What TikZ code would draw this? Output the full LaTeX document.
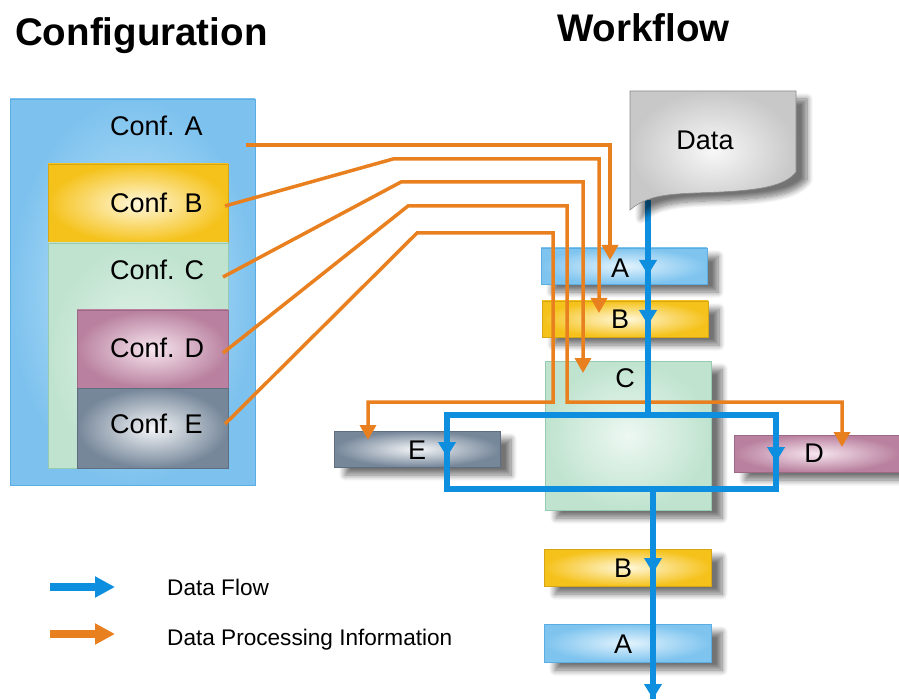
\documentclass[tikz,border=0pt]{standalone}
\usepackage{fontspec}
\setmainfont{Liberation Sans}
\usetikzlibrary{arrows.meta,shadows.blur}
\definecolor{flowblue}{RGB}{14,142,222}
\definecolor{procorange}{RGB}{233,128,32}
\begin{document}
\begin{tikzpicture}[x=1pt,y=-1pt,
  box/.style={draw,line width=0.6pt,inner sep=0pt,outer sep=0pt},
  shA/.style={inner color={rgb,255:red,227;green,243;blue,253},outer color={rgb,255:red,126;green,196;blue,239},draw={rgb,255:red,90;green,174;blue,227}},
  shB/.style={inner color={rgb,255:red,255;green,248;blue,220},outer color={rgb,255:red,245;green,194;blue,27},draw={rgb,255:red,215;green,166;blue,21}},
  shC/.style={inner color={rgb,255:red,237;green,248;blue,242},outer color={rgb,255:red,191;green,227;blue,207},draw={rgb,255:red,150;green,203;blue,176}},
  shD/.style={inner color={rgb,255:red,247;green,230;blue,239},outer color={rgb,255:red,185;green,129;blue,159},draw={rgb,255:red,156;green,106;blue,134}},
  shE/.style={inner color={rgb,255:red,244;green,246;blue,248},outer color={rgb,255:red,118;green,135;blue,154},draw={rgb,255:red,94;green,110;blue,126}},
  shData/.style={inner color={rgb,255:red,248;green,248;blue,248},outer color={rgb,255:red,200;green,200;blue,200},draw={rgb,255:red,140;green,140;blue,140}},
  shadowed/.style={blur shadow={shadow xshift=11pt,shadow yshift=-8pt,shadow blur radius=6pt,shadow blur steps=10,shadow opacity=55}},
  wbox/.style={box,shadowed,minimum width=166pt,minimum height=36pt},
  conftext/.style={anchor=base west,inner sep=0pt,font=\fontsize{27}{32}\selectfont},
  lettertext/.style={inner sep=0pt,font=\fontsize{27}{32}\selectfont},
  title/.style={anchor=base west,inner sep=0pt,font=\fontsize{38.5}{44}\selectfont\bfseries},
  legendtext/.style={anchor=base west,inner sep=0pt,font=\fontsize{22.6}{26}\selectfont},
  flow/.style={draw=flowblue,line width=5.5pt},
  flowtip/.style={flow,-{Triangle[width=17pt,length=15pt]}},
  proc/.style={draw=procorange,line width=3.5pt,-{Triangle[width=16pt,length=15pt]}},
  legflow/.style={draw=flowblue,line width=8pt,-{Triangle[width=20pt,length=20pt]}},
  legproc/.style={draw=procorange,line width=8pt,-{Triangle[width=20pt,length=20pt]}}
]
\useasboundingbox (0,0) rectangle (899,700);

% titles
\node[title] (tconf) at (15,46) {Configuration};
\node[title] (twork) at (557,42) {Workflow};

% configuration boxes
\node[box,shA,inner color={rgb,255:red,205;green,234;blue,251},outer color={rgb,255:red,125;green,194;blue,238},minimum width=245pt,minimum height=386pt] (cA) at (132.5,292) {};
\node[box,shB,minimum width=180pt,minimum height=79pt] (cB) at (138,203.5) {};
\node[box,shC,inner color={rgb,255:red,230;green,244;blue,236},minimum width=180pt,minimum height=225pt] (cC) at (138,355.5) {};
\node[box,shD,minimum width=151pt,minimum height=78pt] (cD) at (152.5,349) {};
\node[box,shE,minimum width=151pt,minimum height=80pt] (cE) at (152.5,428) {};
\node[conftext] (tA) at (110,136) {Conf. A};
\node[conftext] (tB) at (110,213) {Conf. B};
\node[conftext] (tC) at (110,280) {Conf. C};
\node[conftext] (tD) at (110,357) {Conf. D};
\node[conftext] (tE) at (110,433) {Conf. E};

% workflow boxes
\node[wbox,shA] (wA) at (624,266) {};
\node[wbox,shB] (wB) at (625,319) {};
\node[box,shadowed,shC,minimum width=166pt,minimum height=149pt] (wC) at (628,435.5) {};
\node[wbox,shE] (wE) at (417,449) {};
\node[wbox,shD,minimum width=165pt,minimum height=37pt] (wD) at (816.5,453.5) {};
\node[wbox,shB,minimum width=167pt,minimum height=37pt] (wB2) at (627.5,567.5) {};
\node[wbox,shA,minimum width=167pt,minimum height=38pt] (wA2) at (627.5,643) {};
\node[lettertext] (lA) at (620,268) {A};
\node[lettertext] (lB) at (620,319) {B};
\node[lettertext] (lC) at (625,378) {C};
\node[lettertext] (lE) at (417,450) {E};
\node[lettertext] (lD) at (814,453) {D};
\node[lettertext] (lB2) at (623,568) {B};
\node[lettertext] (lA2) at (623,644) {A};

% connector coordinates
\coordinate (sA) at (246,145);
\coordinate (sB) at (225,206);
\coordinate (sC) at (223,277);
\coordinate (sD) at (223,353);
\coordinate (sE) at (225,424);
\coordinate (dataout) at (648,200);
\coordinate (split) at (648,415);
\coordinate (merge) at (653,489);
\coordinate (flowend) at (653,699);

% processing information (orange)
\draw[proc] (sA) -- (610,145) -- (610,260);
\draw[proc] (sB) -- (393,159) -- (599,159) -- (599,313);
\draw[proc] (sC) -- (401,182) -- (583,182) -- (583,373);
\draw[proc] (sD) -- (408,206) -- (567,206) -- (567,402) -- (842,402) -- (842,447);
\draw[proc] (sE) -- (417,233) -- (553,233) -- (553,402) -- (368,402) -- (368,440);

% data flow (blue)
\draw[flow] (dataout) -- (split);
\draw[flow,line join=miter] (split) -| (447,489) -- (776,489) |- (split);
\draw[flow] (merge) -- (flowend);
\draw[flowtip] (648,255) -- (648,275);
\draw[flowtip] (648,305) -- (648,325);
\draw[flowtip] (447,437) -- (447,457);
\draw[flowtip] (776,442) -- (776,462);
\draw[flowtip] (653,553) -- (653,573);
\draw[flowtip] (653,680) -- (flowend);

% data document
\path[box,shadowed,shData] (630,91) -- (796,91) -- (796,172)
  .. controls (785,186) and (760,190) .. (720,192)
  .. controls (680,194) and (650,192) .. (630,210) -- cycle;
\node[lettertext] (data) at (705,140) {Data};

% legend
\coordinate (lf1) at (50,587); \coordinate (lf2) at (115,587);
\coordinate (lp1) at (50,634); \coordinate (lp2) at (115,634);
\draw[legflow] (lf1) -- (lf2);
\draw[legproc] (lp1) -- (lp2);
\node[legendtext] (lgf) at (167,595) {Data Flow};
\node[legendtext] (lgp) at (167,645) {Data Processing Information};
\end{tikzpicture}
\end{document}
